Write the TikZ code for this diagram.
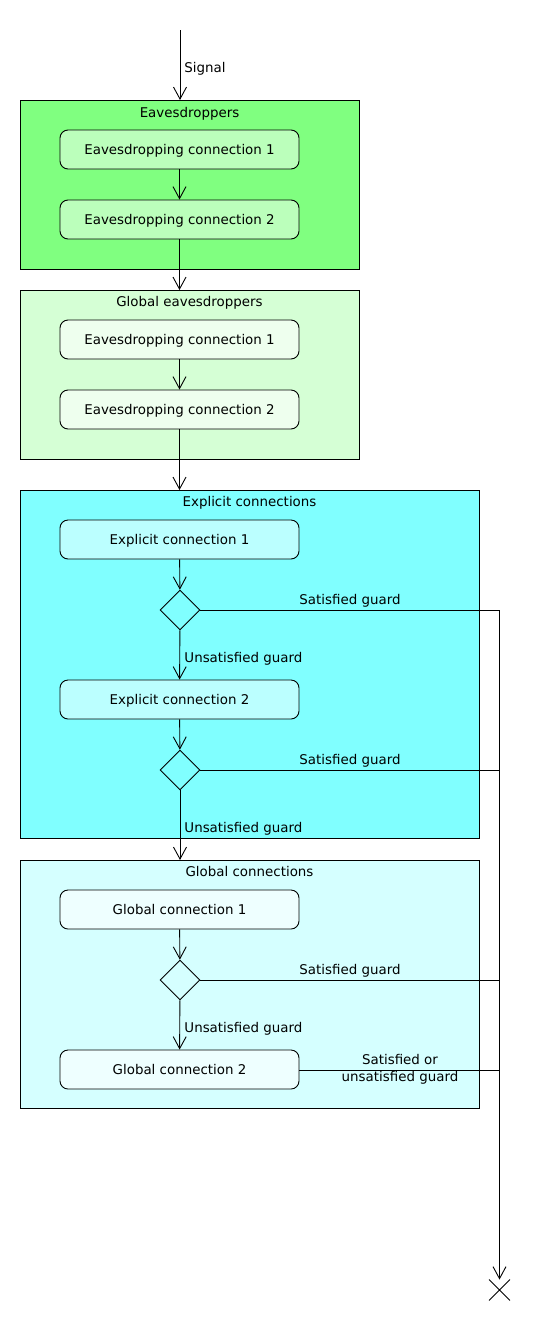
\documentclass[tikz,border=0pt]{standalone}
\usepackage{fontspec}
\setmainfont{DejaVu Sans}
\usetikzlibrary{arrows.meta,shapes.geometric,shapes.misc}
\definecolor{grA}{HTML}{80FF80}
\definecolor{grAi}{HTML}{BBFFBB}
\definecolor{grB}{HTML}{D5FFD5}
\definecolor{grBi}{HTML}{EEFFEE}
\definecolor{cyA}{HTML}{80FFFF}
\definecolor{cyAi}{HTML}{BBFFFF}
\definecolor{cyB}{HTML}{D5FFFF}
\definecolor{cyBi}{HTML}{EEFFFF}
\begin{document}
\begin{tikzpicture}[x=1pt,y=-1pt,line width=0.9pt,
  font=\fontsize{13.4}{16}\selectfont,
  group/.style={draw,rectangle,inner sep=0pt,anchor=north west},
  act/.style={draw,rounded corners=8pt,minimum width=239pt,minimum height=39pt,inner sep=0pt,text height=12.5pt,text depth=3pt},
  dec/.style={draw,diamond,minimum size=40pt,inner sep=0pt},
  arr/.style={-{Straight Barb[length=12pt,width=13pt,line width=0.9pt]}},
  lab/.style={inner sep=0pt,text height=12.5pt,text depth=3pt}]
\useasboundingbox (0,0) rectangle (540,1320);
% groups
\node[group,fill=grA,minimum width=339pt,minimum height=169pt] (g1) at (20,100) {};
\node[lab] at (189.5,113) {Eavesdroppers};
\node[group,fill=grB,minimum width=339pt,minimum height=169pt] (g2) at (20,290) {};
\node[lab] at (189.5,302) {Global eavesdroppers};
\node[group,fill=cyA,minimum width=459pt,minimum height=348pt] (g3) at (20,490) {};
\node[lab] at (249.5,502) {Explicit connections};
\node[group,fill=cyB,minimum width=459pt,minimum height=248pt] (g4) at (20,860) {};
\node[lab] at (249.5,872) {Global connections};
% actions
\node[act,fill=grAi] (e1) at (179.5,149.5) {Eavesdropping connection 1};
\node[act,fill=grAi] (e2) at (179.5,219.5) {Eavesdropping connection 2};
\node[act,fill=grBi] (ge1) at (179.5,339.5) {Eavesdropping connection 1};
\node[act,fill=grBi] (ge2) at (179.5,409.5) {Eavesdropping connection 2};
\node[act,fill=cyAi] (x1) at (179.5,539.5) {Explicit connection 1};
\node[dec,fill=cyA] (d1) at (180,610) {};
\node[act,fill=cyAi] (x2) at (179.5,699.5) {Explicit connection 2};
\node[dec,fill=cyA] (d2) at (180,770) {};
\node[act,fill=cyBi] (c1) at (179.5,909.5) {Global connection 1};
\node[dec,fill=cyB] (d3) at (180,980) {};
\node[act,fill=cyBi] (c2) at (179.5,1069.5) {Global connection 2};
% start and end
\coordinate (start) at (180,30);
\node[draw,cross out,minimum size=20pt,inner sep=0pt] (final) at (499.5,1290) {};
\coordinate (r1) at (499.5,610);
\coordinate (r2) at (499.5,770);
\coordinate (r3) at (499.5,980);
\coordinate (r4) at (499.5,1070);
% connectors
\draw[arr] (start) -- (start |- g1.north);
\node[lab,anchor=west] at (184,68) {Signal};
\draw[arr] (e1) -- (e2);
\draw[arr] (e2) -- (e2 |- g2.north);
\draw[arr] (ge1) -- (ge2);
\draw[arr] (ge2) -- (ge2 |- g3.north);
\draw[arr] (x1) -- (d1);
\draw[arr] (d1) -- (x2);
\node[lab,anchor=west] at (184,658) {Unsatisfied guard};
\draw[arr] (x2) -- (d2);
\draw[arr] (d2) -- (d2 |- g4.north);
\node[lab,anchor=west] at (184,828) {Unsatisfied guard};
\draw[arr] (c1) -- (d3);
\draw[arr] (d3) -- (c2);
\node[lab,anchor=west] at (184,1028) {Unsatisfied guard};
\draw (d1.east) -- (r1);
\node[lab] at (350,600) {Satisfied guard};
\draw (d2.east) -- (r2);
\node[lab] at (350,760) {Satisfied guard};
\draw (d3.east) -- (r3);
\node[lab] at (350,970) {Satisfied guard};
\draw (c2.east |- r4) -- (r4);
\node[inner sep=0pt,align=center,font=\fontsize{13.4}{17}\selectfont] at (400,1069.5) {Satisfied or\\unsatisfied guard};
\draw[arr] (r1) -- (final);
\end{tikzpicture}
\end{document}
